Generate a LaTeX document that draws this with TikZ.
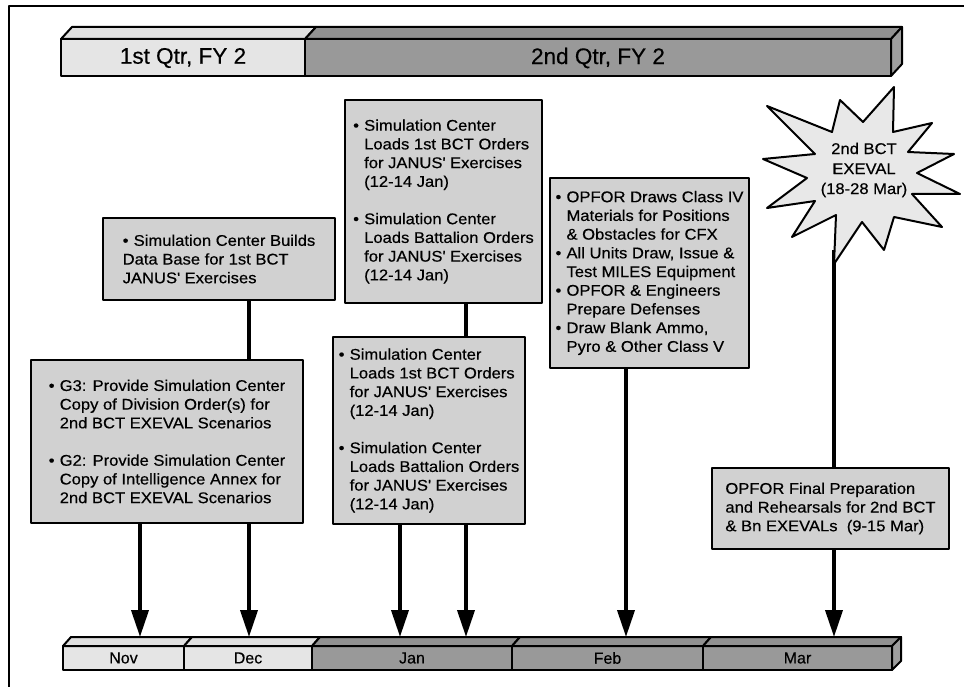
\documentclass[tikz,border=0pt]{standalone}
\usepackage{fontspec}
\setmainfont{Liberation Sans}[FakeBold=0.35]
\newfontfamily\boxfont{Liberation Sans}[FakeStretch=1.07, FakeBold=0.45]
\usetikzlibrary{arrows.meta}
\definecolor{boxgray}{gray}{0.82}
\definecolor{lightbar}{gray}{0.90}
\definecolor{lighttop}{gray}{0.88}
\definecolor{darkbar}{gray}{0.60}
\definecolor{darktop}{gray}{0.57}
\definecolor{darkside}{gray}{0.62}
\definecolor{starfill}{gray}{0.91}
\newcommand{\apos}{\XeTeXglyph\XeTeXcharglyph"27\relax}
\newcommand{\bu}{\makebox[11pt][l]{•}}
\newcommand{\hi}{\hspace*{11pt}}
\begin{document}
\begin{tikzpicture}[x=1pt,y=-1pt, line join=round,
  taskbox/.style={draw=black, line width=2.2pt, fill=boxgray, inner sep=0pt, align=left,
    font=\boxfont\fontsize{15.5}{18.7}\selectfont},
  barlabel/.style={inner sep=0pt, font=\fontsize{22.5}{24}\selectfont},
  monthlabel/.style={inner sep=0pt, font=\fontsize{16}{18}\selectfont},
  startext/.style={inner sep=0pt, align=center, font=\boxfont\fontsize{15.5}{20}\selectfont},
  conn/.style={line width=3.8pt, draw=black},
  arr/.style={conn, -{Triangle[length=27pt,width=17pt]}},
  face/.style={draw=black, line width=2pt}
]
\useasboundingbox (0,0) rectangle (964,687);
\fill[white] (0,0) rectangle (964,687);
% frame
\draw[line width=2pt] (9,687) -- (9,6) -- (964,6);

% ---------- top quarter bar ----------
\filldraw[face, fill=lightbar] (61,39) rectangle (305,76);
\filldraw[face, fill=darkbar] (305,39) rectangle (891,76);
\filldraw[face, fill=lighttop] (61,39) -- (72,27) -- (316,27) -- (305,39) -- cycle;
\filldraw[face, fill=darktop] (305,39) -- (316,27) -- (902,27) -- (891,39) -- cycle;
\filldraw[face, fill=darkside] (891,39) -- (902,27) -- (902,64) -- (891,76) -- cycle;
\node[barlabel] (q1) at (183,58) {1st Qtr, FY 2};
\node[barlabel] (q2) at (598,58) {2nd Qtr, FY 2};

% ---------- bottom month bar ----------
\filldraw[face, fill=lightbar] (63,646) rectangle (184,670);
\filldraw[face, fill=lightbar] (184,646) rectangle (312,670);
\filldraw[face, fill=darkbar] (312,646) rectangle (512,670);
\filldraw[face, fill=darkbar] (512,646) rectangle (703,670);
\filldraw[face, fill=darkbar] (703,646) rectangle (892,670);
\filldraw[face, fill=lighttop] (63,646) -- (71,637) -- (192,637) -- (184,646) -- cycle;
\filldraw[face, fill=lighttop] (184,646) -- (192,637) -- (320,637) -- (312,646) -- cycle;
\filldraw[face, fill=darktop] (312,646) -- (320,637) -- (520,637) -- (512,646) -- cycle;
\filldraw[face, fill=darktop] (512,646) -- (520,637) -- (711,637) -- (703,646) -- cycle;
\filldraw[face, fill=darktop] (703,646) -- (711,637) -- (901,637) -- (892,646) -- cycle;
\filldraw[face, fill=darkside] (892,646) -- (901,637) -- (901,661) -- (892,670) -- cycle;
\node[monthlabel] (mnov) at (123.5,658) {Nov};
\node[monthlabel] (mdec) at (248,658) {Dec};
\node[monthlabel] (mjan) at (412,658) {Jan};
\node[monthlabel] (mfeb) at (607.5,658) {Feb};
\node[monthlabel] (mmar) at (797.5,658) {Mar};

% arrow targets on the month bar
\coordinate (nov) at (140,637);
\coordinate (dec) at (249,637);
\coordinate (jan1) at (400,637);
\coordinate (jan2) at (466,637);
\coordinate (feb) at (626,637);
\coordinate (mar) at (834,637);

% ---------- boxes ----------
\node[taskbox, minimum width=232pt, minimum height=82pt] (b1) at (219,259)
  {\bu Simulation Center Builds\\ Data Base for 1st BCT\\ JANUS\apos{} Exercises};
\node[taskbox, minimum width=272pt, minimum height=163pt] (b2) at (167,441.5)
  {\bu G3: Provide Simulation Center\\ \hi Copy of Division Order(s) for\\ \hi 2nd BCT EXEVAL Scenarios\\[18.7pt]
   \bu G2: Provide Simulation Center\\ \hi Copy of Intelligence Annex for\\ \hi 2nd BCT EXEVAL Scenarios};
\node[taskbox, minimum width=197pt, minimum height=203pt] (b3) at (443.5,201.5)
  {\bu Simulation Center\\ \hi Loads 1st BCT Orders\\ \hi for JANUS\apos{} Exercises\\ \hi (12-14 Jan)\\[18.7pt]
   \bu Simulation Center\\ \hi Loads Battalion Orders\\ \hi for JANUS\apos{} Exercises\\ \hi (12-14 Jan)};
\node[taskbox, minimum width=192pt, minimum height=187pt] (b4) at (429,430.5)
  {\bu Simulation Center\\ \hi Loads 1st BCT Orders\\ \hi for JANUS\apos{} Exercises\\ \hi (12-14 Jan)\\[18.7pt]
   \bu Simulation Center\\ \hi Loads Battalion Orders\\ \hi for JANUS\apos{} Exercises\\ \hi (12-14 Jan)};
\node[taskbox, minimum width=199pt, minimum height=190pt] (b5) at (649.5,273)
  {\bu OPFOR Draws Class IV\\ \hi Materials for Positions\\ \hi \& Obstacles for CFX\\
   \bu All Units Draw, Issue \&\\ \hi Test MILES Equipment\\
   \bu OPFOR \& Engineers\\ \hi Prepare Defenses\\
   \bu Draw Blank Ammo,\\ \hi Pyro \& Other Class V};
\node[taskbox, minimum width=237pt, minimum height=81pt] (b6) at (830.5,508.5)
  {OPFOR Final Preparation\\ and Rehearsals for 2nd BCT\\ \& Bn EXEVALs\ \ (9-15 Mar)};

% ---------- star ----------
\coordinate (starbot) at (834,250);
\draw[conn] (starbot) -- (b6.north -| mar);
\filldraw[fill=starfill, line width=2pt]
  (894,87) -- (863,122) -- (840,100) -- (832,132) -- (767,106) -- (815,154) -- (763,159)
  -- (807,178) -- (767,208) -- (815,201) -- (792,237) -- (836,215) -- (834,264)
  -- (862,222) -- (884,250) -- (894,217) -- (942,227) -- (912,194) -- (960,194)
  -- (917,173) -- (954,154) -- (908,152) -- (932,123) -- (893,132) -- cycle;
\node[startext] (star) at (864,170) {2nd BCT\\EXEVAL\\(18-28 Mar)};

% ---------- connectors ----------
\draw[conn] (b1.south -| dec) -- (b2.north -| dec);
\draw[arr] (b2.south -| nov) -- (nov);
\draw[arr] (b2.south -| dec) -- (dec);
\draw[conn] (b3.south -| jan2) -- (b4.north -| jan2);
\draw[arr] (b4.south -| jan1) -- (jan1);
\draw[arr] (b4.south -| jan2) -- (jan2);
\draw[arr] (b5.south -| feb) -- (feb);
\draw[arr] (b6.south -| mar) -- (mar);
\end{tikzpicture}
\end{document}
